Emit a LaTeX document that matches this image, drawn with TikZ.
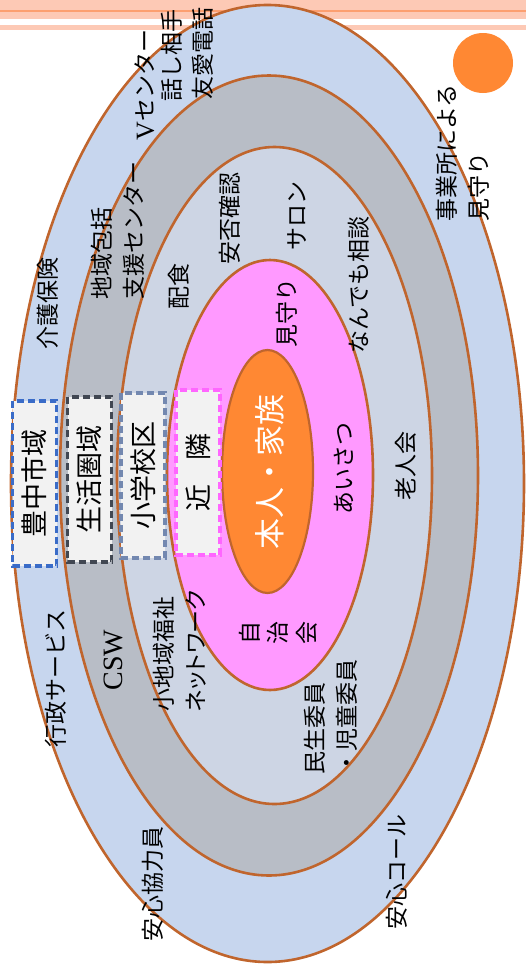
\documentclass[tikz,border=0pt]{standalone}
\usepackage{fontspec}
\setmainfont{Noto Sans CJK JP}
\newfontfamily\latser{Liberation Serif}
\newfontfamily\jppalt[RawFeature=+palt]{Noto Sans CJK JP}
\definecolor{stripe}{HTML}{FDC9B5}
\definecolor{stripedk}{HTML}{FC9F70}
\definecolor{ring1}{HTML}{C7D6EE}
\definecolor{ring2}{HTML}{B8BDC6}
\definecolor{ring3}{HTML}{CDD5E4}
\definecolor{ring4}{HTML}{FF99FF}
\definecolor{coreor}{HTML}{FF8833}
\definecolor{edge}{HTML}{C0652D}
\definecolor{boxfill}{HTML}{F2F2F2}
\definecolor{bxblue}{HTML}{3A6CC8}
\definecolor{bxdark}{HTML}{414752}
\definecolor{bxslate}{HTML}{7388B0}
\definecolor{bxpink}{HTML}{FF66FF}
\tikzset{
  ring/.style={draw=edge, line width=2.6pt},
  lbl/.style={rotate=90, inner sep=0pt, align=left, font=\fontsize{23}{32}\selectfont},
  areabox/.style={rotate=90, fill=boxfill, line width=3.2pt, dash pattern=on 7pt off 4pt,
    minimum width=165pt, minimum height=44pt, inner sep=0pt, font=\fontsize{27}{30}\selectfont}
}
\begin{document}
\begin{tikzpicture}[x=1pt,y=-1pt]
\useasboundingbox (0,0) rectangle (526,970);
% header stripes
\fill[stripe] (0,0) rectangle (526,10);
\fill[stripedk] (0,9.5) rectangle (526,11.5);
\fill[stripe] (0,11.5) rectangle (526,18.5);
\fill[stripe] (0,24.5) rectangle (526,29.5);
% rings
\path[ring, fill=ring1] (267.5,483.5) ellipse [x radius=256.5pt, y radius=478.5pt];
\path[ring, fill=ring2] (269,475.5) ellipse [x radius=209pt, y radius=400pt];
\path[ring, fill=ring3] (274.5,475.5) ellipse [x radius=157.5pt, y radius=328.5pt];
\path[ring, fill=ring4] (270,475) ellipse [x radius=103pt, y radius=215pt];
\path[draw=edge, line width=2.2pt, fill=coreor] (267.5,471.5) ellipse [x radius=45.5pt, y radius=121.5pt];
% sun
\fill[coreor] (483,63) circle [radius=30pt];
% area boxes
\node[areabox, draw=bxblue] (toyonaka) at (34.5,483.5) {豊中市域};
\node[areabox, draw=bxdark] (seikatsu) at (89.5,479.5) {生活圏域};
\node[areabox, draw=bxslate] (shogakko) at (143,475.5) {小学校区};
\node[areabox, draw=bxpink] (kinrin) at (198,472.5) {近\hspace{0.9em}隣};
% core
\node[lbl, text=white, font=\fontsize{31}{34}\selectfont] (honnin) at (270,472) {本人・家族};
% labels
\node[lbl] (kaigo) at (48,303) {介護保険};
\node[lbl] (chiiki) at (117.5,230) {地域包括\\支援センター};
\node[lbl] (vcenter) at (145,85) {{\latser\fontsize{26}{30}\selectfont V}センター};
\node[lbl] (hanashi) at (172,55) {話し相手};
\node[lbl] (yuai) at (203,53) {友愛電話};
\node[lbl] (jigyo) at (463,153) {事業所による\\見守り};
\node[lbl] (haishoku) at (179,286) {配食};
\node[lbl] (anpi) at (230,218) {安否確認};
\node[lbl] (salon) at (297,216) {サロン};
\node[lbl] (nandemo) at (359,285) {なんでも相談};
\node[lbl] (mimamori) at (287,313) {見守り};
\node[lbl] (aisatsu) at (344,468) {あいさつ};
\node[lbl] (rojin) at (406,466) {老人会};
\node[lbl] (gyosei) at (56,678) {行政サービス};
\node[lbl, font=\latser\fontsize{28}{30}\selectfont] (csw) at (113,660) {CSW};
\node[lbl] (shochiiki) at (180,651) {小地域福祉\\{\jppalt ネットワーク}};
\node[lbl, font=\fontsize{23}{28.5}\selectfont, align=center] (jichi) at (278,633) {自\\治\\会};
\node[lbl] (minsei) at (331,717) {民生委員\\・児童委員};
\node[lbl] (anshinkyo) at (153,884) {安心協力員};
\node[lbl] (anshincall) at (397,872) {安心コール};
\end{tikzpicture}
\end{document}
